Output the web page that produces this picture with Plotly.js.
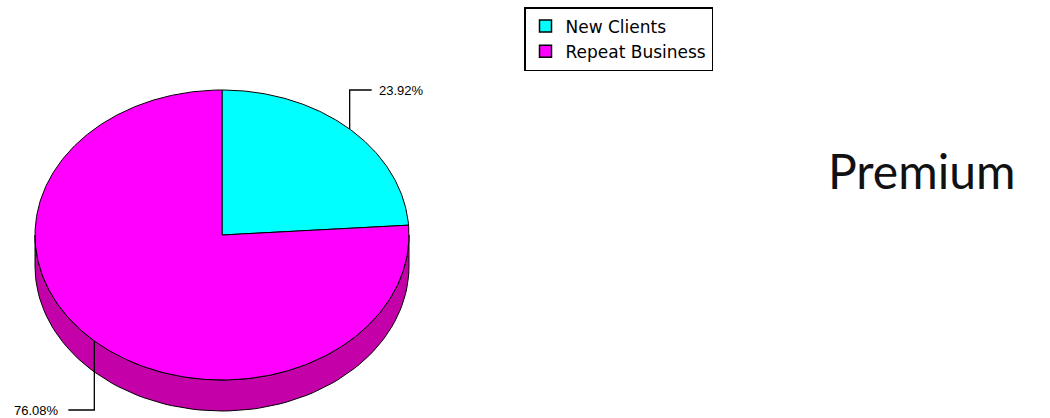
<!DOCTYPE html>
<html>
<head>
<meta charset="utf-8">
<script src="https://cdn.plot.ly/plotly-3.0.1.min.js"></script>
<style>html,body{margin:0;padding:0;background:#fff;}#chart{width:1050px;height:418px;}</style>
</head>
<body>
<div id="chart"></div>
<script>
// ---- data ----
const categories = ["New Clients", "Repeat Business"];
const percents = [23.92, 76.08];
const labelTexts = ["23.92%", "76.08%"];
const topColors = ["#00FFFF", "#FF00FF"];
const sideColors = ["#00C0C0", "#C400A8"];
const sideTitle = "Premium";

// ---- geometry (pixel space via axes) ----
const cx = 222, cy = 235, rx = 187, ry = 145, depth = 31;
const deg = Math.PI / 180;
function pt(a, dy) { return [cx + rx * Math.cos(a * deg), cy - ry * Math.sin(a * deg) + (dy || 0)]; }

const total = percents.reduce((s, v) => s + v, 0);
const traces = [];
let start = 90;
const slices = percents.map((p, i) => {
  const sweep = p / total * 360;
  const s = { a0: start, a1: start - sweep, i: i };
  start -= sweep;
  return s;
});

// side walls (visible bottom half)
slices.forEach(s => {
  const segs = [];
  for (let k = -1; k <= 1; k++) {
    const lo = Math.max(s.a1, -180 + 360 * k), hi = Math.min(s.a0, 0 + 360 * k);
    if (hi > lo) segs.push([hi, lo]);
  }
  segs.forEach(([hi, lo]) => {
    const xs = [], ys = [];
    const n = 80;
    for (let j = 0; j <= n; j++) { const a = hi + (lo - hi) * j / n; const q = pt(a); xs.push(q[0]); ys.push(q[1]); }
    for (let j = n; j >= 0; j--) { const a = hi + (lo - hi) * j / n; const q = pt(a, depth); xs.push(q[0]); ys.push(q[1]); }
    xs.push(xs[0]); ys.push(ys[0]);
    traces.push({ x: xs, y: ys, mode: "lines", fill: "toself", fillcolor: sideColors[s.i],
      line: { color: "#000", width: 1 }, hoverinfo: "skip", showlegend: false });
  });
});

// top faces
slices.forEach(s => {
  const xs = [cx], ys = [cy];
  const n = Math.max(10, Math.round((s.a0 - s.a1) * 1.5));
  for (let j = 0; j <= n; j++) { const a = s.a0 + (s.a1 - s.a0) * j / n; const q = pt(a); xs.push(q[0]); ys.push(q[1]); }
  xs.push(cx); ys.push(cy);
  traces.push({ x: xs, y: ys, mode: "lines", fill: "toself", fillcolor: topColors[s.i],
    line: { color: "#000", width: 1 }, hoverinfo: "skip", showlegend: false });
});

// leader lines + labels
const annotations = [];
slices.forEach(s => {
  const mid = (s.a0 + s.a1) / 2;
  const q = pt(mid);
  const right = Math.cos(mid * deg) >= 0;
  const elbowY = right ? 90 : 410;
  const endX = right ? q[0] + 22 : q[0] - 26;
  traces.push({ x: [q[0], q[0], endX], y: [q[1], elbowY, elbowY], mode: "lines",
    line: { color: "#000", width: 1.3 }, hoverinfo: "skip", showlegend: false });
  annotations.push({ x: right ? endX + 5 : endX - 7, y: elbowY, xref: "x", yref: "y",
    text: labelTexts[s.i], showarrow: false, xanchor: right ? "left" : "right", yanchor: "middle",
    font: { family: "Liberation Sans, sans-serif", size: 13, color: "#000" } });
});

// legend entries
categories.forEach((c, i) => {
  traces.push({ x: [null], y: [null], name: c, mode: "markers", type: "scatter",
    marker: { symbol: "square", size: 12, color: topColors[i], line: { color: "#000", width: 1.5 } } });
});

annotations.push({ x: 826, y: 170, xref: "x", yref: "y", text: sideTitle, showarrow: false,
  xanchor: "left", yanchor: "middle", font: { family: "Lato, sans-serif", size: 48, color: "#111" } });

const layout = {
  width: 1050, height: 418,
  margin: { l: 0, r: 0, t: 0, b: 0 },
  paper_bgcolor: "#fff", plot_bgcolor: "#fff",
  xaxis: { range: [0, 1050], visible: false, fixedrange: true },
  yaxis: { range: [418, 0], visible: false, fixedrange: true },
  showlegend: true,
  legend: { x: 524 / 1050, y: 1 - 7 / 418, xanchor: "left", yanchor: "top",
    bordercolor: "#000", borderwidth: 1.5, bgcolor: "#fff",
    font: { family: "DejaVu Sans, sans-serif", size: 17, color: "#000" },
    tracegroupgap: 0, itemwidth: 30 },
  annotations: annotations
};

Plotly.newPlot("chart", traces, layout, { staticPlot: true, displayModeBar: false });
</script>
</body>
</html>
